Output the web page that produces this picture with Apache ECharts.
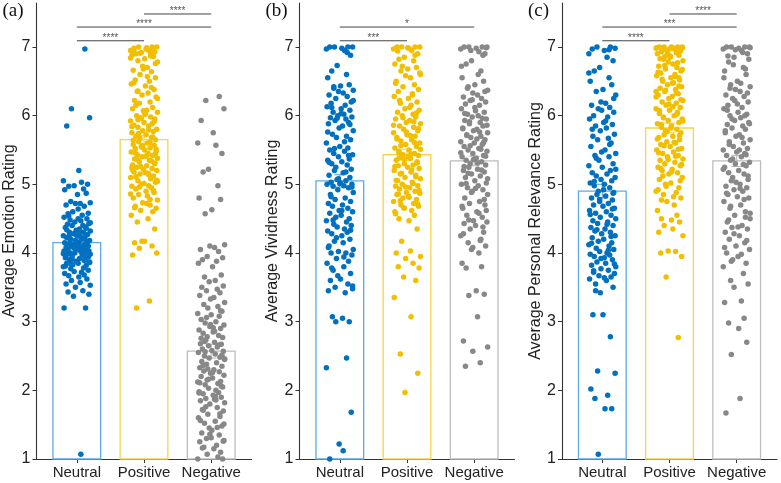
<!DOCTYPE html>
<html>
<head>
<meta charset="utf-8">
<script src="https://cdn.jsdelivr.net/npm/echarts@6/dist/echarts.min.js"></script>
<style>
  html, body { margin: 0; padding: 0; background: #fff; }
  #chart { width: 781px; height: 483px; }
</style>
</head>
<body>
<div id="chart"></div>
<script>
const categories = ['Neutral', 'Positive', 'Negative'];
const yTicks = [1, 2, 3, 4, 5, 6, 7];

// bar heights (means) and standard errors per panel
const meansA = [4.15, 5.65, 2.57];
const meansB = [5.05, 5.43, 5.34];
const meansC = [4.90, 5.82, 5.34];
const seA = [0.05, 0.06, 0.10];
const seB = [0.09, 0.08, 0.07];
const seC = [0.10, 0.07, 0.08];

// horizontal jitter of the individual points (category units)
const jitter = [
  .12,-.08,.19,-.15,.03,-.2,.07,.16,-.04,-.12,.1,-.18,.14,.01,-.09,.2,-.02,.05,-.16,.11,
  -.06,.17,-.13,.08,-.19,.02,.15,-.1,.06,-.03,.18,-.14,.09,-.07,.13,-.17,.04,-.01,.2,-.11,
  .1,-.05,.16,-.2,0,.12,-.15,.07,-.09,.19,-.02,.14,-.18,.03,-.12,.11,-.06,.17,-.08,.05,
  -.16,.15,-.04,.09,-.13,.01,.18,-.19,.06,-.1,.13,-.03,.2,-.14,.08,-.07,.16,-.17,.04,-.11,
  .12,-.01,.19,-.15,.02,-.06,.14,-.2,.1,-.09,.17,-.04,.07,-.18,.11,-.12,.03,.15,-.08,.05,
  -.16,.2,-.02,.09,-.13,.18,-.05,.13,-.19,.06,-.1,.16,-.03,.01,-.14,.12,-.07,.19,-.17,.08,
  -.11,.04,.14,-.06,.1,-.2,.17,-.01,.05,-.15,.11,-.09,.2,-.12,.02,-.04,.15,-.18,.07,-.08,
  .13,-.16,.09,-.02,.18,-.13,.03,-.1,.16,-.05,-.17,.06,-.12,.19,.0,-.07,.14,-.2,.09,.04,
  -.14,.17,-.03,.11,-.18,.07,.2,-.09,.01,-.15,.13,-.06,.18,-.11,.05,-.19,.1,-.02,.15,-.13
];

// (a) emotion ratings
const aNeu = [6.97,6.1,5.97,5.85,5.2,5.05,5.03,5.0,4.98,4.97,4.93,4.92,4.87,4.85,4.75,4.73,4.72,4.72,4.7,4.68,
  4.6,4.58,4.57,4.55,4.52,4.5,4.5,4.48,4.47,4.45,4.43,4.42,4.4,4.4,4.38,4.37,4.35,4.33,4.32,4.3,
  4.3,4.28,4.27,4.25,4.25,4.23,4.22,4.2,4.2,4.18,4.18,4.17,4.15,4.15,4.13,4.12,4.12,4.1,4.1,4.1,
  4.08,4.08,4.07,4.05,4.05,4.05,4.03,4.03,4.02,4.0,4.0,4.0,3.98,3.98,3.97,3.95,3.95,3.93,3.92,3.9,
  3.9,3.88,3.87,3.85,3.85,3.83,3.82,3.8,3.78,3.77,3.75,3.73,3.72,3.7,3.68,3.67,3.65,3.62,3.6,3.57,
  3.55,3.53,3.5,3.45,3.43,3.4,3.37,3.2,3.2,1.07,
  4.19,4.16,4.11,4.06,4.01,3.96,3.91,3.86,3.81,4.21,4.26,4.31,4.36,4.09,4.04,3.99,3.94,4.14,4.24,4.34,
  3.89,3.84,4.44,4.54,4.64];
const aPos = [7.0,7.0,7.0,6.98,6.97,6.95,6.95,6.93,6.92,6.9,6.9,6.88,6.86,6.83,6.8,6.78,6.72,6.7,6.66,6.64,
  6.6,6.55,6.52,6.5,6.46,6.43,6.38,6.35,6.33,6.3,6.27,6.22,6.2,6.18,6.12,6.1,6.08,6.07,6.05,6.0,
  5.98,5.97,5.95,5.92,5.9,5.88,5.86,5.85,5.83,5.8,5.78,5.77,5.75,5.72,5.7,5.68,5.67,5.65,5.62,5.6,
  5.58,5.57,5.55,5.53,5.52,5.5,5.48,5.47,5.45,5.43,5.42,5.4,5.38,5.37,5.35,5.33,5.3,5.28,5.27,5.25,
  5.23,5.22,5.2,5.18,5.17,5.15,5.12,5.1,5.08,5.05,5.03,5.0,4.98,4.97,4.95,4.93,4.9,4.88,4.85,4.83,
  4.8,4.77,4.73,4.7,4.68,4.65,4.62,4.6,4.55,4.5,4.45,4.35,4.17,4.17,4.15,4.1,4.07,4.0,3.97,3.3,3.2,
  6.99,6.96,6.91,6.87,6.84,6.76,6.68,6.57,6.48,6.41,6.36,6.25,6.15,6.02,5.96,5.91,5.84,5.79,5.74,5.69,
  5.64,5.61,5.56,5.51,5.46,5.41,5.36,5.31,5.26,5.21,5.16,5.11,5.06,5.01,4.96,4.91,4.86,4.78,4.72,4.66,
  5.44,5.54,5.34,5.24,5.14,5.04,5.94,6.04,6.94,6.89];
const aNeg = [6.28,6.22,6.1,5.93,5.75,5.6,5.57,5.45,5.22,5.18,4.98,4.8,4.78,4.63,4.57,4.12,4.1,4.08,4.05,4.02,
  3.95,3.93,3.9,3.88,3.85,3.8,3.68,3.65,3.6,3.58,3.52,3.5,3.47,3.45,3.42,3.38,3.35,3.33,3.28,3.25,
  3.22,3.2,3.15,3.12,3.1,3.08,3.03,3.0,2.98,2.95,2.93,2.9,2.88,2.85,2.83,2.8,2.78,2.77,2.73,2.7,
  2.68,2.67,2.65,2.63,2.6,2.58,2.57,2.55,2.53,2.5,2.48,2.47,2.45,2.42,2.4,2.38,2.35,2.33,2.3,2.28,
  2.27,2.25,2.22,2.2,2.18,2.15,2.13,2.12,2.1,2.08,2.05,2.03,2.0,1.98,1.97,1.95,1.93,1.9,1.88,1.87,
  1.85,1.82,1.8,1.75,1.72,1.7,1.65,1.62,1.6,1.55,1.52,1.48,1.45,1.42,1.38,1.35,1.3,1.27,1.25,1.2,
  1.17,1.15,1.1,1.07,1.03,1.0,1.0,
  2.96,2.86,2.76,2.66,2.56,2.46,2.36,2.26,2.16,2.06,1.96,1.86,1.76,1.66,1.56,1.46,1.36,1.26,1.16,2.91,
  2.71,2.51,2.31,2.11,1.91,1.71,1.51,1.31,3.06,3.16];

// (b) vividness ratings
const bNeu = [7.0,7.0,7.0,7.0,6.98,6.97,6.95,6.88,6.73,6.65,6.6,6.55,6.45,6.43,6.4,6.37,6.35,6.33,6.3,6.28,
  6.25,6.2,6.18,6.15,6.13,6.1,6.08,6.05,6.02,6.0,5.98,5.97,5.95,5.93,5.9,5.88,5.85,5.82,5.78,5.73,
  5.7,5.68,5.65,5.6,5.55,5.53,5.5,5.48,5.45,5.43,5.4,5.37,5.35,5.33,5.3,5.28,5.25,5.22,5.2,5.17,
  5.13,5.1,5.07,5.05,5.03,5.02,5.0,5.0,4.98,4.97,4.95,4.92,4.88,4.85,4.8,4.78,4.75,4.72,4.7,4.68,
  4.65,4.62,4.6,4.58,4.55,4.52,4.5,4.47,4.45,4.42,4.4,4.38,4.35,4.32,4.3,4.28,4.25,4.2,4.17,4.15,
  4.1,4.05,4.02,4.0,4.0,3.97,3.92,3.88,3.85,3.8,3.75,3.7,3.67,3.62,3.6,3.55,3.5,3.48,3.45,3.42,
  3.07,3.05,3.0,3.0,2.47,2.33,1.68,1.22,1.12,1.0,
  6.92,6.42,6.22,6.12,6.03,5.96,5.87,5.76,5.62,5.52,5.42,5.32,5.18,5.08,4.96,4.82,4.62,4.48,4.33,4.22,
  4.08,3.94,3.78,3.52,5.01];
const bPos = [7.0,7.0,7.0,7.0,6.98,6.97,6.95,6.9,6.85,6.82,6.8,6.75,6.7,6.68,6.65,6.6,6.58,6.55,6.5,6.45,
  6.42,6.38,6.35,6.3,6.28,6.25,6.2,6.18,6.15,6.1,6.08,6.05,6.02,6.0,5.98,5.95,5.93,5.9,5.88,5.85,
  5.83,5.8,5.78,5.75,5.72,5.7,5.68,5.65,5.63,5.6,5.58,5.55,5.53,5.5,5.48,5.45,5.43,5.42,5.4,5.38,
  5.35,5.33,5.3,5.28,5.27,5.25,5.23,5.2,5.18,5.15,5.13,5.1,5.08,5.05,5.03,5.0,4.98,4.97,4.95,4.93,
  4.9,4.88,4.87,4.85,4.83,4.8,4.78,4.75,4.72,4.7,4.68,4.65,4.62,4.6,4.55,4.5,4.47,4.35,4.17,4.03,
  4.0,3.95,3.92,3.85,3.8,3.78,3.65,3.6,3.35,3.07,2.53,2.25,1.97,
  6.99,6.94,6.88,6.72,6.62,6.47,6.32,6.22,6.12,6.04,5.97,5.91,5.86,5.81,5.76,5.71,5.66,5.61,5.56,5.51,
  5.46,5.41,5.36,5.31,5.26,5.21,5.16,5.11,5.06,5.01,4.96,4.91,4.86,4.81,4.76,4.71,4.66,4.57,5.44,5.38];
const bNeg = [7.0,7.0,7.0,7.0,6.98,6.97,6.93,6.9,6.8,6.75,6.65,6.55,6.5,6.45,6.42,6.37,6.33,6.3,6.27,6.25,
  6.22,6.2,6.17,6.15,6.1,6.07,6.05,6.02,6.0,5.98,5.95,5.93,5.9,5.88,5.85,5.82,5.8,5.78,5.75,5.72,
  5.7,5.68,5.65,5.62,5.6,5.58,5.55,5.52,5.5,5.48,5.45,5.42,5.4,5.38,5.35,5.33,5.3,5.28,5.25,5.22,
  5.2,5.18,5.15,5.12,5.1,5.05,5.02,5.0,4.98,4.95,4.92,4.9,4.85,4.8,4.75,4.72,4.7,4.65,4.6,4.55,
  4.52,4.47,4.45,4.43,4.4,4.35,4.3,4.25,4.2,4.15,4.1,4.05,4.0,3.85,3.8,3.78,3.45,3.4,3.38,3.07,
  2.72,2.63,2.57,2.4,2.35,
  6.99,6.95,6.88,6.72,6.6,6.4,6.35,6.23,6.12,6.03,5.96,5.91,5.86,5.81,5.76,5.71,5.66,5.61,5.56,5.51,
  5.46,5.41,5.36,5.31,5.26,5.21,5.16,5.08,5.01,4.94,4.88,4.78,4.68,4.58,4.48,4.38,4.28,4.18,4.08,4.62];

// (c) personal relevance ratings
const cNeu = [7.0,7.0,6.98,6.97,6.95,6.9,6.85,6.8,6.7,6.65,6.55,6.5,6.45,6.38,6.35,6.3,6.2,6.18,6.15,6.12,
  6.1,6.05,6.0,5.98,5.95,5.9,5.87,5.85,5.82,5.78,5.73,5.7,5.67,5.65,5.6,5.55,5.5,5.47,5.45,5.42,
  5.4,5.35,5.3,5.27,5.25,5.2,5.17,5.15,5.12,5.1,5.07,5.05,5.02,5.0,4.98,4.95,4.9,4.88,4.85,4.83,
  4.8,4.77,4.75,4.72,4.7,4.68,4.65,4.62,4.6,4.58,4.55,4.52,4.5,4.47,4.45,4.43,4.4,4.37,4.35,4.32,
  4.3,4.28,4.25,4.22,4.2,4.17,4.15,4.12,4.1,4.07,4.05,4.02,4.0,3.98,3.97,3.95,3.93,3.9,3.87,3.85,
  3.82,3.8,3.77,3.75,3.72,3.7,3.67,3.65,3.62,3.6,3.55,3.5,3.42,3.1,3.1,2.78,2.28,2.25,2.02,1.93,
  1.88,1.73,1.73,1.07,
  6.96,6.62,6.25,6.08,5.92,5.8,5.58,5.38,5.22,5.04,4.92,4.78,4.64,4.56,4.42,4.34,4.24,4.14,4.04,3.92,
  3.84,3.74,3.64,3.45,4.87];
const cPos = [7.0,7.0,7.0,7.0,7.0,6.98,6.97,6.95,6.95,6.93,6.92,6.9,6.88,6.85,6.82,6.8,6.78,6.75,6.72,6.7,
  6.68,6.65,6.62,6.6,6.58,6.55,6.52,6.5,6.48,6.45,6.42,6.4,6.38,6.35,6.32,6.3,6.28,6.25,6.22,6.2,
  6.18,6.15,6.12,6.1,6.08,6.05,6.03,6.0,5.98,5.95,5.93,5.9,5.88,5.85,5.83,5.8,5.78,5.75,5.72,5.7,
  5.68,5.65,5.62,5.6,5.58,5.55,5.52,5.5,5.47,5.45,5.42,5.4,5.37,5.35,5.32,5.3,5.27,5.25,5.22,5.2,
  5.17,5.15,5.1,5.07,5.02,5.0,4.95,4.9,4.88,4.85,4.8,4.75,4.7,4.62,4.55,4.5,4.48,4.45,4.4,4.35,
  4.3,4.25,4.03,4.02,4.0,3.95,3.65,2.77,
  6.99,6.98,6.96,6.94,6.91,6.87,6.83,6.77,6.73,6.67,6.63,6.57,6.53,6.47,6.43,6.37,6.33,6.27,6.23,6.17,
  6.13,6.07,6.02,5.97,5.92,5.87,5.82,5.77,5.71,5.66,5.61,5.56,5.51,5.46,5.41,5.36,5.29,5.23,5.18,5.12,
  5.05,4.97,4.92,4.82,4.77,6.99,6.97,6.86,6.55,6.35];
const cNeg = [7.0,7.0,7.0,7.0,6.98,6.97,6.95,6.9,6.85,6.78,6.7,6.65,6.6,6.5,6.45,6.42,6.38,6.35,6.3,6.28,
  6.25,6.2,6.15,6.12,6.1,6.05,6.02,6.0,5.97,5.93,5.9,5.87,5.85,5.82,5.8,5.75,5.72,5.7,5.65,5.62,
  5.6,5.55,5.52,5.5,5.47,5.45,5.42,5.4,5.35,5.32,5.3,5.27,5.25,5.2,5.17,5.15,5.1,5.07,5.05,5.0,
  4.97,4.95,4.92,4.9,4.85,4.82,4.8,4.75,4.7,4.65,4.6,4.55,4.5,4.45,4.4,4.37,4.35,4.3,4.25,4.2,
  4.15,4.1,4.05,4.0,3.95,3.9,3.85,3.8,3.7,3.6,3.55,3.5,3.3,3.28,3.05,2.98,2.9,2.7,2.52,1.88,1.67,
  6.99,6.96,6.92,6.87,6.82,6.74,6.68,6.55,6.47,6.4,6.33,6.22,6.17,6.08,6.0,5.95,5.88,5.78,5.68,5.58,
  5.5,5.43,5.37,5.29,5.22,5.12,5.03,4.94,4.87,4.78,4.68,4.58,4.48,4.38,4.28,4.18,4.08,3.98,3.88,4.52];

// significance brackets: [from category, to category, height]
const bracketsA = [[1, 2, 7.09], [1, 3, 7.29], [2, 3, 7.48]];
const starsA = ['****', '****', '****'];
const bracketsB = [[1, 2, 7.09], [1, 3, 7.29]];
const starsB = ['***', '*'];
const bracketsC = [[1, 2, 7.09], [1, 3, 7.29], [2, 3, 7.48]];
const starsC = ['****', '***', '****'];

const pointColors = ['#0070C0', '#F2BF00', '#888888'];
const barColors = ['#5DAAE6', '#F7D44C', '#BDBDBD'];

const panels = [
  { tag: '(a)', title: 'Average Emotion Rating', means: meansA, se: seA, groups: [aNeu, aPos, aNeg], br: bracketsA, stars: starsA, left: 36.5 },
  { tag: '(b)', title: 'Average Vividness Rating', means: meansB, se: seB, groups: [bNeu, bPos, bNeg], br: bracketsB, stars: starsB, left: 299.5 },
  { tag: '(c)', title: 'Average Personal Relevance Rating', means: meansC, se: seC, groups: [cNeu, cPos, cNeg], br: bracketsC, stars: starsC, left: 562 }
];

const FONT = 'Liberation Sans, Arial, sans-serif';
const grid = [], xAxis = [], yAxis = [], series = [], graphic = [];

panels.forEach((p, i) => {
  grid.push({ left: p.left, top: 3, width: 215, height: 456 });
  xAxis.push({
    type: 'value', gridIndex: i, min: 0.4, max: 3.6,
    axisLine: { lineStyle: { color: '#333', width: 1.1 } },
    axisTick: { length: 4, customValues: [1, 2, 3], lineStyle: { color: '#333' } },
    axisLabel: {
      customValues: [1, 2, 3], margin: 6, color: '#222', fontSize: 15, fontFamily: FONT,
      formatter: v => categories[Math.round(v) - 1]
    },
    splitLine: { show: false }
  });
  yAxis.push({
    type: 'value', gridIndex: i, min: 1, max: 7.64,
    name: p.title, nameLocation: 'middle', nameGap: 17,
    nameTextStyle: { fontSize: 16, color: '#222', fontFamily: FONT },
    axisLine: { show: true, lineStyle: { color: '#333', width: 1.1 } },
    axisTick: { show: true, length: 4, customValues: yTicks, lineStyle: { color: '#333' } },
    axisLabel: { customValues: yTicks, margin: 6, color: '#222', fontSize: 16, fontFamily: FONT },
    splitLine: { show: false }
  });

  // bars with error bars
  series.push({
    type: 'custom', xAxisIndex: i, yAxisIndex: i, z: 1, silent: true,
    data: p.means.map((m, c) => [c + 1, m, p.se[c]]),
    renderItem: (params, api) => {
      const c = api.value(0), m = api.value(1), se = api.value(2);
      const tl = api.coord([c - 0.355, m]);
      const br = api.coord([c + 0.355, 1]);
      const lo = api.coord([c, m - se]);
      const hi = api.coord([c, m + se]);
      const cap = api.size([0.08, 0])[0];
      const col = barColors[params.dataIndex];
      return {
        type: 'group',
        children: [
          { type: 'rect', shape: { x: tl[0], y: tl[1], width: br[0] - tl[0], height: br[1] - tl[1] },
            style: { fill: 'rgba(255,255,255,0)', stroke: col, lineWidth: 1.3 } },
          { type: 'line', shape: { x1: lo[0], y1: lo[1], x2: hi[0], y2: hi[1] }, style: { stroke: col, lineWidth: 1.2 } },
          { type: 'line', shape: { x1: lo[0] - cap, y1: lo[1], x2: lo[0] + cap, y2: lo[1] }, style: { stroke: col, lineWidth: 1.2 } },
          { type: 'line', shape: { x1: hi[0] - cap, y1: hi[1], x2: hi[0] + cap, y2: hi[1] }, style: { stroke: col, lineWidth: 1.2 } }
        ]
      };
    }
  });

  // jittered individual ratings
  p.groups.forEach((vals, c) => {
    series.push({
      type: 'scatter', xAxisIndex: i, yAxisIndex: i, z: 2, silent: true,
      symbolSize: 5.5,
      itemStyle: { color: pointColors[c], opacity: 1 },
      data: vals.map((v, k) => [c + 1 + jitter[k % jitter.length], v])
    });
  });

  // significance brackets
  series.push({
    type: 'custom', xAxisIndex: i, yAxisIndex: i, z: 3, silent: true,
    data: p.br,
    renderItem: (params, api) => {
      const a = api.coord([api.value(0), api.value(2)]);
      const b = api.coord([api.value(1), api.value(2)]);
      return {
        type: 'group',
        children: [
          { type: 'line', shape: { x1: a[0], y1: a[1], x2: b[0], y2: b[1] }, style: { stroke: '#444', lineWidth: 1 } },
          { type: 'text', style: { text: p.stars[params.dataIndex], x: (a[0] + b[0]) / 2, y: a[1] - 3,
              align: 'center', verticalAlign: 'middle', fontSize: 10, fill: '#555', fontFamily: FONT } }
        ]
      };
    }
  });

  graphic.push({
    type: 'text', left: p.left - 34, top: 2,
    style: { text: p.tag, fontSize: 19, fill: '#111', fontFamily: 'Liberation Serif, Times New Roman, serif' }
  });
});

const chart = echarts.init(document.getElementById('chart'));
chart.setOption({ animation: false, backgroundColor: '#fff', grid, xAxis, yAxis, series, graphic });
</script>
</body>
</html>
